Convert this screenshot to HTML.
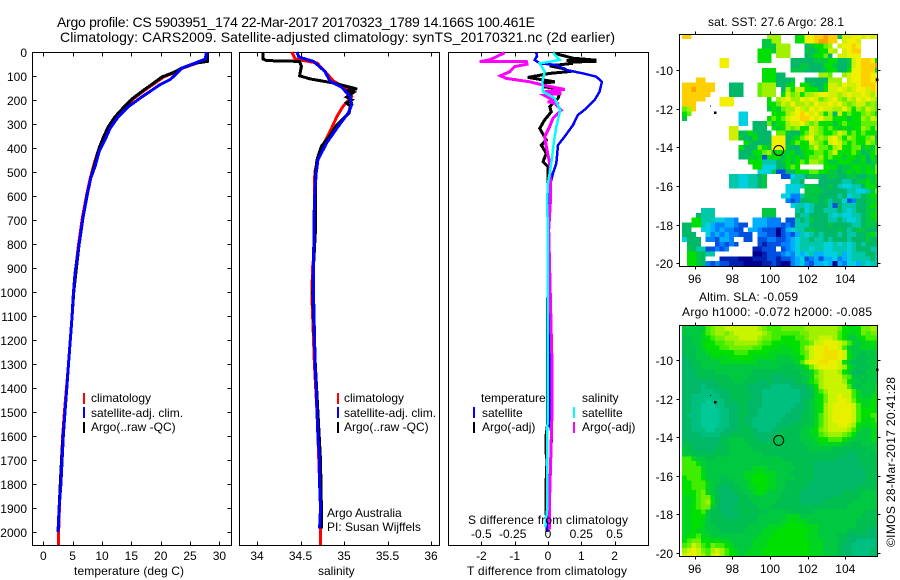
<!DOCTYPE html>
<html>
<head>
<meta charset="utf-8">
<title>Argo profile</title>
<style>
html,body{margin:0;padding:0;background:#fff;}
svg{display:block;}
text{font-family:"Liberation Sans",sans-serif;font-size:12px;fill:#000;}
.t14{font-size:14px;}
.crisp{shape-rendering:crispEdges;}
</style>
</head>
<body>
<svg id="figure" width="900" height="580" viewBox="0 0 900 580" xmlns="http://www.w3.org/2000/svg">
  <rect width="900" height="580" fill="#fff"/>
  <text class="t14" x="57" y="27" textLength="478" lengthAdjust="spacing">Argo profile: CS 5903951_174 22-Mar-2017 20170323_1789 14.166S 100.461E</text>
  <text class="t14" x="60" y="42" textLength="555" lengthAdjust="spacing">Climatology: CARS2009. Satellite-adjusted climatology: synTS_20170321.nc (2d earlier)</text>

  <g id="heat1" class="crisp"></g>
  <g id="heat2" class="crisp"></g>
  <g id="axes" class="crisp"></g>
  <g id="curves" class="crisp"></g>
  <g id="labels"></g>

  <text x="74" y="575" textLength="110">temperature (deg C)</text>
  <text x="318" y="575">salinity</text>
  <text x="467" y="575" textLength="160">T difference from climatology</text>
  <text x="468" y="524" textLength="160">S difference from climatology</text>

  <g class="crisp">
    <rect x="83" y="393" width="2" height="11" fill="#f00"/>
    <rect x="83" y="407" width="2" height="11" fill="#00f"/>
    <rect x="83" y="422" width="2" height="11" fill="#000"/>
    <rect x="337" y="393" width="2" height="11" fill="#f00"/>
    <rect x="337" y="407" width="2" height="11" fill="#00f"/>
    <rect x="337" y="422" width="2" height="11" fill="#000"/>
    <rect x="473" y="407" width="2" height="11" fill="#00f"/>
    <rect x="473" y="422" width="2" height="11" fill="#000"/>
    <rect x="573" y="407" width="2" height="11" fill="#0ff"/>
    <rect x="573" y="422" width="2" height="11" fill="#f0f"/>
  </g>
  <text x="91" y="402">climatology</text>
  <text x="91" y="417">satellite-adj. clim.</text>
  <text x="91" y="431">Argo(..raw -QC)</text>
  <text x="344" y="402">climatology</text>
  <text x="344" y="417">satellite-adj. clim.</text>
  <text x="344" y="431">Argo(..raw -QC)</text>
  <text x="327" y="517">Argo Australia</text>
  <text x="327" y="531">PI: Susan Wijffels</text>
  <text x="481" y="402">temperature</text>
  <text x="482" y="417">satellite</text>
  <text x="482" y="431">Argo(-adj)</text>
  <text x="582" y="402">salinity</text>
  <text x="582" y="417">satellite</text>
  <text x="582" y="431">Argo(-adj)</text>

  <text x="708" y="26" textLength="136">sat. SST: 27.6 Argo: 28.1</text>
  <text x="699" y="301" textLength="99">Altim. SLA: -0.059</text>
  <text x="682" y="316" textLength="190">Argo h1000: -0.072 h2000: -0.085</text>
  <text transform="translate(895,547) rotate(-90)" textLength="170">©IMOS 28-Mar-2017 20:41:28</text>
</svg>

<script>
// ---- tick labels ----
const depthTicks = [0,100,200,300,400,500,600,700,800,900,1000,1100,1200,1300,1400,1500,1600,1700,1800,1900,2000];
const tempTicks = [0,5,10,15,20,25,30];
const salTicks = [34,34.5,35,35.5,36];
const tDiffTicks = [-2,-1,0,1,2];
const sDiffTicks = [-0.5,-0.25,0,0.25,0.5];
const lonTicks = [96,98,100,102,104];
const latTicks = [-10,-12,-14,-16,-18,-20];

// ---- temperature panel series ----
const tClimDepth = [0,39,46,67,85,104,140,164,196,233,271,310,351,400,462,525,594,685,803,907,1000,1100,1200,1300,1400,1500,1600,1700,1800,1900,2000,2054];
const tClimValue = [27.9,27.9,26.2,23.8,22.4,20.5,18.4,17,15.3,13.8,12.4,11.3,10.4,9.5,8.7,8,7.4,6.7,6,5.5,5.2,4.9,4.6,4.3,3.95,3.6,3.3,3.1,2.9,2.75,2.6,2.6];
const tArgoDepth = [0,39,46,67,85,104,140,164,196,233,271,310,351,400,462,525,594,685,803,907,997,1100,1200,1300,1400,1500,1600,1700,1800,1900,1990];
const tArgoValue = [27.95,27.95,26.1,23.6,22.2,20.2,18.2,16.8,15.1,13.6,12.2,11.1,10.3,9.5,8.8,8.1,7.5,6.8,6.1,5.6,5.2,4.9,4.6,4.3,4,3.7,3.35,3.1,2.9,2.7,2.55];
const tSatDepth = [0,29,46,67,88,115,136,164,192,228,269,317,367,415,477,525,602,700,818,922,1018,1100,1200,1300,1400,1500,1600,1700,1800,1900,2000];
const tSatValue = [27.8,27.6,25.9,23.6,22.8,21.6,19.9,18.2,16.5,14.5,12.8,11.4,10.5,9.5,8.8,8.1,7.4,6.7,6,5.4,5.1,4.9,4.6,4.3,4,3.7,3.4,3.2,3,2.7,2.5];

// ---- salinity panel series ----
const sClimDepth = [0,29,46,81,122,150,185,226,268,331,400,490,532,824,893,1004,1300,1500,1700,1900,2054];
const sClimValue = [34.40,34.44,34.69,34.78,34.88,35.03,35.09,34.99,34.92,34.84,34.74,34.67,34.66,34.66,34.64,34.63,34.66,34.69,34.71,34.73,34.73];
const sArgoDepth = [0,29,36,39,60,99,112,129,154,160,168,188,199,212,224,254,303,358,393,449,504,643,754,893,1004,1300,1500,1700,1900,1985];
const sArgoValue = [34.07,34.07,34.11,34.49,34.51,34.49,34.61,34.88,35.15,35.03,35.11,35.03,35.09,35.03,35.07,35.06,34.92,34.82,34.74,34.69,34.67,34.67,34.67,34.65,34.64,34.67,34.70,34.73,34.74,34.74];
const sSatDepth = [0,21,39,81,122,146,185,219,254,317,379,449,504,615,893,1004,1325,1400,1500,1600,1700,1800,1900,1985];
const sSatValue = [34.46,34.48,34.65,34.78,34.84,34.97,35.07,35.09,35.05,34.92,34.80,34.70,34.68,34.66,34.65,34.65,34.67,34.68,34.69,34.70,34.72,34.72,34.73,34.72];

// ---- difference panel series ----
const dtArgoDepth = [3,6,26,34,36,39,42,47,58,70,82,89,106,124,130,144,150,172,193,228,249,283,318,367,388,422,457,478,742,1560,1600,1670,1700,1800,1950,2000];
const dtArgoValue = [0.15,0.2,0.75,1.45,0.55,1.45,0.6,0.75,0.05,0.5,0.6,0.05,-0.6,0.2,-0.15,-0.15,0.15,0.35,0.3,0.05,0.1,-0.1,-0.25,-0.05,-0.2,-0.05,-0.15,0,0,-0.02,-0.06,-0.06,-0.03,-0.06,-0.05,-0.02];
const dtSatDepth = [3,17,33,47,54,75,89,103,124,165,200,235,262,304,353,388,464,506,561,631,742,1000,1300,1400,1560,1600,1670,1800,1900,2000];
const dtSatValue = [-0.35,-0.33,-0.4,-0.25,0.25,0.55,1.05,1.45,1.62,1.55,1.4,1.15,0.9,0.75,0.5,0.3,0.25,0.15,0.05,0.05,0,0.02,0.05,0.05,0.07,0.12,0.08,0.05,0,-0.03];
const dsArgoDepth = [3,33,40,40,51,61,82,99,110,124,138,156,165,172,180,193,200,208,215,221,242,276,311,353,394,464,533,631,742,1300,1500,1700,1900,1990];
const dsArgoValue = [-0.325,-0.4375,-0.5125,-0.1625,-0.1575,-0.25,-0.2875,-0.3575,-0.3125,-0.1375,-0.0375,0.125,-0.025,0.1,-0.03,0.0125,0.06,0.0,0.07,0.0625,0.1,0.0375,0.0125,-0.025,-0.0125,0.0125,0.0175,0.0175,0.005,0.03,0.03,0.02,0.01,0.01];
const dsSatDepth = [3,33,43,47,82,124,165,193,242,311,381,464,547,631,742,1900,1980];
const dsSatValue = [0.0375,0.0875,-0.0125,-0.0625,-0.025,-0.0425,-0.0375,0.05,0.0925,0.0625,0.0425,0.025,0,-0.0075,0,-0.005,-0.02];

// ---- location markers ----
const floatLon = [100.461];
const floatLat = [-14.166];
const landLon = [96.85,97.1,105.7];
const landLat = [-11.85,-12.2,-10.5];

// ---- satellite SST grid (rows north to south, level letters; '.' = no data) ----
const sstRows = [
"oo................lll...jjnnoopooimmnnmnmn",
".................iill...jjnnoppoo.mnnm....",
".................iiilll...hijjkl.mnnon....",
"................jjjilll...ihijjml.mnoo....",
"................jjj.lll...hijjkh.mmnnn....",
"........nn......jjj....hhhhhiiijjhhimnoonj",
"........nn.............hhiihhhjjihhimnooop",
".................jjj...iiihhhhijjhhjnnoooj",
".................jjjhh.......llk..lmnnoonn",
"...oo............jjjhhhi..hhhhhlll.mnnoonp",
"ooooooo...hhh...klllhhij.jjihhjmmlnmmnooon",
"oopoooo...hhh...klll.hljmmjjjhjmmnmlmnnmon",
"oooooo....hhh...klll.jmkljllmnnmmlmnmmnmln",
"ooooo...nnn.......j.lmnllnmnmklmnlkmlnmnml",
"ooo.....nnn.......jjkmlnllmlnmmnmnlklmmklk",
"klo...............ijikllnmlnmnmmllnljlkmlk",
"jk..........ff.....jjjlmnonmnljlhmjkjjklkj",
"i...........ff....jkjkmnnoonmnlljjjijjlkml",
"............ff.hhhkijjlmmnlkljjjijkjjjkkkk",
"..........mm...hhh.jijlkljjmlkjkjijijjlkjl",
"..........mmhijihhh.kkihhjkmlkjjkmljkjkjjj",
"..........mmihhjhhhnnnhijkmnklkmnljlkjjklh",
".............jihhhhnnnhjkjjmlkjmnmkjkjjlkj",
"............jhhhkjinnnihhjjkmkkjlmjjkkijik",
"............hhhjjklijjijhijjkkjkmjjjkjhijk",
"............hhiijcjjjhjijijkkljkjjijjijhji",
"..............jjjggghijijkjllkjiijjjiijhij",
"...............jjfffhhjkj.....jjjhiijjijik",
"................ffficchhjjjkkjjiihijijijjk",
"..........ggffgghi...ccfgghiihhiihhiihhiij",
"..........ggffgghi.....ggh...hhhhhgghiijij",
"..........ggffgghi....fffgiiihhihgffgghjji",
"......................fff.iiiihhhhhggffgik",
".....................ffddgiiihhhhghfgghijj",
"......................dcdhhiihighhfcdhhiij",
".......................fggfghhhgchggghhijj",
"....ggg..........iii....ghfghhggghgfghhiij",
"...hggg..........iii....hgghhhhgfgffgghijj",
"..jjgggffeed...eeeddd.ccghgihhhgghgffghiij",
"hhjjgfeddeedcc.eeedddcdcggghhhhihhhhgghiih",
"hh..ffededdcc.eedcccacefgghihhhhhihghiihhh",
"hhh..fdededdccc.ddccacdcegfghghhhghgghhijg",
"fhhh.ddceed..cc.ccddccdefgghgghghhhghhhihh",
".hhh...cdcdc....cbcccddefgggggffgfgfghghhh",
".ihggccdcd.....bbccc.cdefggfggffgggfghhhgg",
".jjihgg........aabcccdedfefgeefffgefggghhg",
".jjih...bbbbaaabbbccbccdefcdeceefdefgggghg",
".jjihdcdccbbbaaaabbcbaadefdceefeaedffegfgg"
];
const sstPalette = {a:"#000090",b:"#0020b0",c:"#0050e0",d:"#0080ff",e:"#00b0ff",f:"#00d0e0",g:"#00c8a8",h:"#00b868",i:"#00c840",j:"#00e000",k:"#60f000",l:"#a0f000",m:"#d0f000",n:"#f0f000",o:"#ffd000",p:"#ffa000"};

// ---- altimetry SLA grid (rows north to south, level letters) ----
const slaRows = [
"eeeeehijjkkkkkkkjihhhiiiiijjjjjjjiggfgiijj",
"eeeefhijjijkkkkkkjihhhhhhiijjjjjjhgffgihii",
"ddeefghiijjjkkkkjiihhggghhijjkkkjhgeefghhh",
"ddeefgghhiijjjjjihhgggggghhikklllkjhfeffgg",
"dddefggghhiiiiihhgggfffgghjkllmllkheeefff",
"dddeefggggghhhggggffffffghikllmmmlkgeedeee",
"cddeeeffffgggggfffffeeeffgikllmmmlkgedddee",
"ccddeeeeffffffffeeeeeeeefhkllmmllkgedddee",
"ccddeeeeeeeeeeeeeeeeedddeegikllllkjgedddee",
"cccddddeeeeeeeeddddddddddeefhjkkkjgedcdeee",
"cccdddddddeeeedddddcccddddefijkkkkihededee",
"cccccccddddeedddccdcccccddeghjkkkkjgeedeee",
"ccccbcccddddddcccccbbbbcccdegjkkkkkhedeeef",
"ccccbbbcccddddcccbbbbbbbbccdfhjkkkkkhfeeef",
"ccbbbbbbccdddddccbbbbbbbbccdfgikklkkhfeefg",
"ccbbbabbbccdddcccbbbbbbbbcdefgikkllkigffgg",
"ccbbaaabbcccddcccbbbbbbbccdefgjkllllkhffgg",
"ccbbaaaabbccddccbbbbbbbcccdefgjkllllkhgggg",
"cbbbaaaabbccddccbbbbbbcccddefhjkllllkhgghh",
"ccbbaaaabbccdccbbbbbbccccddefhjkllllkhgfgh",
"ccbbaaaabbccddcbbbbbcccdddeefhjkkllkjgffgg",
"ccbbbaabbcccdddcbbbccddddeefgijkkkkjhfeeff",
"ccccbbbbccdddddcccccdddddeeffhijjjihgeeeff",
"dcccccccddeeedddcccddddddeeefgghhhgfeeeeff",
"ddccccccddeeeeddddddddddddeeefffffeeddeeee",
"eddccccdddeeeeeddddddddddddeeeeeddddddddee",
"eeddddddddeeeeeeeddddddddddddddddddccddddee",
"hhfeeddeeeeeeeeeeeeeeddddddddddddcccccdddd",
"hhhgeeeeeeeeeeeeeeeeeeedddddccccccccccdddd",
"hhhhfeeeeeeeeeefffeeeeeeddddcccccccccccddd",
"hhhhfeeeeeeeefffgfffeeedddddcccccccccccddd",
"ghhhgeeeddeeeffgggffeeeeddddcccccccccccddd",
"gghhhfeedddeeefgggffeedddddccccccccccccddd",
"gghhhfedccddeeffggffeeddddcccccccccccddddd",
"ggghifedcccddeefgfeeeddddcccccccccddddeeee",
"ffghiifdccccddeeeeeeeddddcccccccddddddeeee",
"ffghijgdccccdddeeeeedddddcccccddddddeeeeee",
"ffghiiedcccdddddeeeddddddddddddddddeeeeeee",
"ffggheddccccddddddeeeeedddddeeeeeeeeeeeddd",
"ffgggedddcccddddeeeeeefffeeeeeeeeeeeeedddd",
"ffggfeddddddddddeeeeeffgfffeeeeeeeeeeddddd",
"ffggfeedddddddeeeeffffggggfffeeeeeeeeddddc",
"ffgffeeedddddeeeefffgggggggffeeeeeeddddccc",
"fgghffeeeeeeeeeefffgggggggfffeeeeddccccccc",
"ghiiggfgffeeeeefffgggggggggfffeeeddccbbbbc",
"hikjhgihhgfeeeefffgggggggggfffeeedccbbbbbc",
"jklkihjkjhgfeefffggggggggggfffeeedccbbbbcc",
"kllkjhkljhgfeffffggggggggggfffeeedccbbbbcc"
];
const slaPalette = {a:"#00c896",b:"#00c080",c:"#00b868",d:"#00be50",e:"#00c840",f:"#00d520",g:"#00e000",h:"#40ec00",i:"#70f000",j:"#a0f000",k:"#c8f400",l:"#e8f000",m:"#f0e000"};

// ---- axis functions ----
const NS = "http://www.w3.org/2000/svg";
const panelTop = 52, panelBottom = 545;
function depthY(z){ return panelTop + 0.24 * z; }
function tempX(v){ return 43.3 + 5.87 * v; }
function salX(v){ return 257 + 87 * (v - 34); }
function dtX(v){ return 548 + 33.3 * v; }
function dsX(v){ return 548 + 133.2 * v; }
function lonX(v){ return 770 + 18.83 * (v - 100); }
function map1LatY(v){ return 70 + 19.33 * (-10 - v); }
function map2LatY(v){ return 360 + 19.3 * (-10 - v); }

const axesG = document.getElementById('axes');
const curvesG = document.getElementById('curves');
const labelsG = document.getElementById('labels');
const heat1G = document.getElementById('heat1');
const heat2G = document.getElementById('heat2');

function makeLine(x1,y1,x2,y2){
  const el = document.createElementNS(NS,'line');
  el.setAttribute('x1',x1);
  el.setAttribute('y1',y1);
  el.setAttribute('x2',x2);
  el.setAttribute('y2',y2);
  el.setAttribute('stroke','#000');
  el.setAttribute('stroke-width','1');
  
  
  axesG.appendChild(el);
  return el;
}
function makeFrame(x,y,w,h){
  const el = document.createElementNS(NS,'rect');
  el.setAttribute('x',x);
  el.setAttribute('y',y);
  el.setAttribute('width',w);
  el.setAttribute('height',h);
  el.setAttribute('fill','none');
  el.setAttribute('stroke','#000');
  el.setAttribute('stroke-width','1');
  
  
  axesG.appendChild(el);
}
function makeLabel(str,x,y,anchor){
  const el = document.createElementNS(NS,'text');
  el.setAttribute('x',x);
  el.setAttribute('y',y);
  el.setAttribute('text-anchor',anchor);
  
  
  el.textContent = str;
  labelsG.appendChild(el);
}
function makeCurve(xs,zs,xFn,color,width){
  const pts = xs.map(function(v,i){ return xFn(v).toFixed(1)+','+depthY(zs[i]).toFixed(1); }).join(' ');
  const el = document.createElementNS(NS,'polyline');
  el.setAttribute('points',pts);
  el.setAttribute('fill','none');
  el.setAttribute('stroke',color);
  el.setAttribute('stroke-width',width);
  
  
  curvesG.appendChild(el);
}

// panels
makeFrame(32.5,52.5,199,493);
makeFrame(239.5,52.5,200,493);
makeFrame(448.5,52.5,200,493);

depthTicks.forEach(function(z){
  const y = Math.round(depthY(z)) + 0.5;
  makeLabel(String(z),27,y+4.5,'end');
  makeLine(32.5,y,36.5,y);
  makeLine(227.5,y,231.5,y);
});
tempTicks.forEach(function(v){
  const x = Math.round(tempX(v)) + 0.5;
  makeLine(x,52.5,x,56.5);
  makeLine(x,541.5,x,545.5);
  makeLabel(String(v),tempX(v),560,'middle');
});
salTicks.forEach(function(v){
  const x = Math.round(salX(v)) + 0.5;
  makeLine(x,52.5,x,56.5);
  makeLine(x,541.5,x,545.5);
  makeLabel(String(v),salX(v),560,'middle');
});
tDiffTicks.forEach(function(v){
  const x = Math.round(dtX(v)) + 0.5;
  makeLine(x,52.5,x,56.5);
  makeLine(x,541.5,x,545.5);
  makeLabel(String(v),dtX(v),560,'middle');
});
sDiffTicks.forEach(function(v){
  makeLabel(String(v),dsX(v)-(v===-0.25?2:0),538,'middle');
});

// curves
makeCurve(tClimValue,tClimDepth,tempX,'#f00',3);
makeCurve(tArgoValue,tArgoDepth,tempX,'#000',3);
makeCurve(tSatValue,tSatDepth,tempX,'#00f',3);
makeCurve(sClimValue,sClimDepth,salX,'#f00',3);
makeCurve(sArgoValue,sArgoDepth,salX,'#000',3);
makeCurve(sSatValue,sSatDepth,salX,'#00f',3);
makeCurve(dtArgoValue,dtArgoDepth,dtX,'#000',3);
makeCurve(dtSatValue,dtSatDepth,dtX,'#00f',2.5);
makeCurve(dsArgoValue,dsArgoDepth,dsX,'#f0f',3);
makeCurve(dsSatValue,dsSatDepth,dsX,'#0ff',2.5);

// heatmaps
const lonStart = 95.33, latStart1 = -8.14, latStart2 = -8.24, cellDeg = 0.25;
sstRows.forEach(function(row,r){
  for (let c = 0; c < row.length && c < 42; c++) {
    const ch = row[c];
    if (!sstPalette[ch]) continue;
    const x0 = lonX(lonStart + c*cellDeg), x1 = lonX(lonStart + (c+1)*cellDeg);
    const y0 = map1LatY(latStart1 - r*cellDeg), y1 = map1LatY(latStart1 - (r+1)*cellDeg);
    const el = document.createElementNS(NS,'rect');
    el.setAttribute('x',x0.toFixed(2));
    el.setAttribute('y',y0.toFixed(2));
    el.setAttribute('width',(Math.min(x1,877)-x0).toFixed(2));
    el.setAttribute('height',(Math.min(y1,266)-y0).toFixed(2));
    el.setAttribute('fill',sstPalette[ch]);
    
    
    heat1G.appendChild(el);
  }
});
slaRows.forEach(function(row,r){
  for (let c = 0; c < 42; c++) {
    const ch = row[Math.min(c,row.length-1)];
    if (!slaPalette[ch]) continue;
    const x0 = lonX(lonStart + c*cellDeg), x1 = lonX(lonStart + (c+1)*cellDeg);
    const y0 = map2LatY(latStart2 - r*cellDeg), y1 = map2LatY(latStart2 - (r+1)*cellDeg);
    const el = document.createElementNS(NS,'rect');
    el.setAttribute('x',x0.toFixed(2));
    el.setAttribute('y',y0.toFixed(2));
    el.setAttribute('width',(Math.min(x1,877)-x0).toFixed(2));
    el.setAttribute('height',(Math.min(y1,556)-y0).toFixed(2));
    el.setAttribute('fill',slaPalette[ch]);
    
    
    heat2G.appendChild(el);
  }
});

// map frames and ticks
makeFrame(679.5,34.5,198,232);
makeFrame(679.5,325.5,198,231);
lonTicks.forEach(function(v){
  const x = Math.round(lonX(v)) + 0.5;
  makeLine(x,31.5,x,34.5);
  makeLine(x,266.5,x,269.5);
  makeLine(x,322.5,x,325.5);
  makeLine(x,556.5,x,559.5);
  makeLabel(String(v),lonX(v),283,'middle');
  makeLabel(String(v),lonX(v),573,'middle');
});
latTicks.forEach(function(v){
  const y1 = Math.round(map1LatY(v)) + 0.5;
  const y2 = Math.round(map2LatY(v)) + 0.5;
  makeLine(676.5,y1,679.5,y1);
  makeLine(877.5,y1,880.5,y1);
  makeLine(676.5,y2,679.5,y2);
  makeLine(877.5,y2,880.5,y2);
  makeLabel(String(v),673,y1+4.5,'end');
  makeLabel(String(v),673,y2+4.5,'end');
});

// land specks and float position
landLon.forEach(function(lon,i){
  const x = lonX(lon);
  const s = i === 0 ? 1 : 2.5;
  [map1LatY(landLat[i]),map2LatY(landLat[i])].forEach(function(y){
    const el = document.createElementNS(NS,'rect');
    el.setAttribute('x',(x-s/2).toFixed(1));
    el.setAttribute('y',(y-s/2).toFixed(1));
    el.setAttribute('width',s);
    el.setAttribute('height',s);
    el.setAttribute('fill','#000');
    
    
    axesG.appendChild(el);
  });
});
[map1LatY(floatLat[0]),map2LatY(floatLat[0])].forEach(function(y){
  const el = document.createElementNS(NS,'circle');
  el.setAttribute('cx',lonX(floatLon[0]).toFixed(1));
  el.setAttribute('cy',y.toFixed(1));
  el.setAttribute('r','5');
  el.setAttribute('fill','none');
  el.setAttribute('stroke','#000');
  el.setAttribute('stroke-width','1');
  
  
  labelsG.appendChild(el);
});
</script>
</body>
</html>
